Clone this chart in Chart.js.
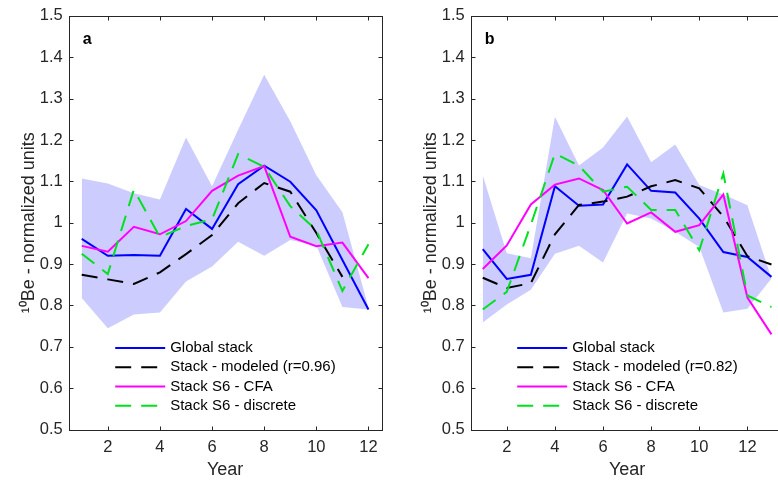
<!DOCTYPE html>
<html>
<head>
<meta charset="utf-8">
<script src="https://cdn.jsdelivr.net/npm/chart.js@4.4.0/dist/chart.umd.min.js"></script>
<style>
html, body { margin: 0; padding: 0; background: #fff; overflow: hidden; }
body { width: 778px; height: 481px; position: relative; }
.panel { position: absolute; top: 0; width: 395px; height: 481px; }
</style>
</head>
<body>
<div class="panel" style="left:0"><canvas id="chartA"></canvas></div>
<div class="panel" style="left:402px"><canvas id="chartB"></canvas></div>
<script>
// panel a
const yearsA = [1, 2, 3, 4, 5, 6, 7, 8, 9, 10, 11, 12];
const globalA = [0.961, 0.920, 0.922, 0.920, 1.033, 0.985, 1.093, 1.138, 1.099, 1.030, 0.910, 0.790];
const modelA = [0.874, 0.863, 0.852, 0.880, 0.924, 0.970, 1.047, 1.096, 1.075, 0.975, 0.869, null];
const cfaA = [0.944, 0.930, 0.990, 0.972, 1.004, 1.077, 1.114, 1.137, 0.966, 0.943, 0.952, 0.866];
const discreteA = [0.925, 0.876, 1.080, 0.965, 0.992, 1.008, 1.166, 1.135, 1.040, 0.982, 0.835, 0.948];
const upperA = [1.107, 1.095, 1.071, 1.056, 1.206, 1.088, 1.225, 1.358, 1.245, 1.115, 1.025, 0.795];
const lowerA = [0.818, 0.745, 0.778, 0.783, 0.858, 0.894, 0.954, 0.920, 0.958, 0.945, 0.796, 0.790];

// panel b
const yearsB = [1, 2, 3, 4, 5, 6, 7, 8, 9, 10, 11, 12, 13];
const globalB = [0.936, 0.864, 0.874, 1.088, 1.041, 1.044, 1.141, 1.077, 1.073, 1.010, 0.929, 0.917, 0.869];
const modelB = [0.867, 0.842, 0.854, 0.972, 1.043, 1.051, 1.063, 1.088, 1.103, 1.083, 1.015, 0.919, 0.899];
const cfaB = [0.888, 0.945, 1.044, 1.092, 1.107, 1.079, 0.998, 1.025, 0.978, 0.994, 1.068, 0.819, 0.730];
const discreteB = [0.790, 0.833, 0.995, 1.167, 1.138, 1.075, 1.087, 1.031, 1.031, 0.933, 1.119, 0.824, 0.796];
const upperB = [1.115, 0.926, 0.914, 1.256, 1.138, 1.182, 1.257, 1.146, 1.189, 1.091, 1.068, 1.042, 0.865];
const lowerB = [0.759, 0.802, 0.838, 0.925, 0.944, 0.904, 1.022, 1.010, 0.978, 0.941, 0.783, 0.792, 0.865];

const xTicks = [2, 4, 6, 8, 10, 12];
const yTicks = [0.5, 0.6, 0.7, 0.8, 0.9, 1, 1.1, 1.2, 1.3, 1.4, 1.5];
const yTickLabels = ['0.5', '0.6', '0.7', '0.8', '0.9', '1', '1.1', '1.2', '1.3', '1.4', '1.5'];

const FONT = "'Liberation Sans', Arial, Helvetica, sans-serif";
const AXIS = '#262626';
const BAND = 'rgb(204,204,255)';
const GREEN = 'rgb(0,225,30)';

function pts(xs, ys) {
	return xs.map((x, i) => ({ x: x, y: ys[i] }));
}

// matlab look: full box, inward ticks on all sides, legend inside, panel letter
const matlabAxes = {
	id: 'matlabAxes',
	afterDatasetsDraw(chart, args, opts) {
		const ctx = chart.ctx;
		const a = chart.chartArea;
		const sx = chart.scales.x, sy = chart.scales.y;
		const L = Math.round(a.left) + 0.5, R = Math.round(a.right) + 0.5;
		const T = Math.round(a.top) + 0.5, B = Math.round(a.bottom) + 0.5;
		ctx.save();
		ctx.strokeStyle = AXIS;
		ctx.lineWidth = 1;
		ctx.setLineDash([]);
		ctx.strokeRect(L, T, R - L, B - T);
		ctx.beginPath();
		xTicks.forEach(v => {
			const px = Math.round(sx.getPixelForValue(v)) + 0.5;
			ctx.moveTo(px, B); ctx.lineTo(px, B - 4);
			ctx.moveTo(px, T); ctx.lineTo(px, T + 4);
		});
		yTicks.forEach(v => {
			const py = Math.round(sy.getPixelForValue(v)) + 0.5;
			ctx.moveTo(L, py); ctx.lineTo(L + 4, py);
			ctx.moveTo(R, py); ctx.lineTo(R - 4, py);
		});
		ctx.stroke();

		ctx.fillStyle = '#000';
		ctx.font = 'bold 16px ' + FONT;
		ctx.textBaseline = 'alphabetic';
		ctx.fillText(opts.letter, a.left + 14, a.top + 27.7);

		// legend
		ctx.font = '15px ' + FONT;
		ctx.textBaseline = 'middle';
		let row = 0;
		chart.data.datasets.forEach(ds => {
			if (!ds.label) return;
			const y = a.top + 332 + row * 19.3;
			ctx.beginPath();
			ctx.strokeStyle = ds.borderColor;
			ctx.lineWidth = ds.borderWidth;
			ctx.setLineDash(ds.borderDash || []);
			ctx.moveTo(a.left + 46.5, y);
			ctx.lineTo(a.left + 96.5, y);
			ctx.stroke();
			ctx.setLineDash([]);
			ctx.fillStyle = '#000';
			ctx.fillText(ds.label, a.left + 101.5, y);
			row++;
		});
		ctx.restore();
	}
};

function makeChart(id, years, xMax, s, letter) {
	return new Chart(document.getElementById(id), {
		type: 'line',
		data: {
			datasets: [
				{ label: '', data: pts(years, s.upper), borderColor: 'rgba(0,0,0,0)', borderWidth: 0, backgroundColor: BAND, fill: '+1', order: 10 },
				{ label: '', data: pts(years, s.lower), borderColor: 'rgba(0,0,0,0)', borderWidth: 0, fill: false, order: 10 },
				{ label: 'Global stack', data: pts(years, s.global), borderColor: 'rgb(0,0,255)', borderWidth: 2, fill: false, order: 4 },
				{ label: s.modelLabel, data: pts(years, s.model), borderColor: '#000', borderWidth: 2, borderDash: [16, 10], fill: false, order: 3 },
				{ label: 'Stack S6 - CFA', data: pts(years, s.cfa), borderColor: 'rgb(255,0,255)', borderWidth: 2, fill: false, order: 2 },
				{ label: 'Stack S6 - discrete', data: pts(years, s.discrete), borderColor: GREEN, borderWidth: 2, borderDash: [16, 10], fill: false, order: 1 }
			]
		},
		options: {
			responsive: true,
			maintainAspectRatio: false,
			animation: false,
			layout: { padding: { left: 0, top: 15, right: 13.5, bottom: 0 } },
			elements: { point: { radius: 0 }, line: { tension: 0 } },
			plugins: {
				legend: { display: false },
				tooltip: { enabled: false },
				matlabAxes: { letter: letter }
			},
			scales: {
				x: {
					type: 'linear', min: 0.5, max: xMax,
					grid: { display: false, drawTicks: false },
					border: { display: false },
					afterBuildTicks: sc => { sc.ticks = xTicks.map(v => ({ value: v })); },
					afterFit: sc => { sc.height = 51.5; },
					ticks: { padding: 8, color: AXIS, maxRotation: 0, font: { family: FONT, size: 16.5 } },
					title: { display: true, text: 'Year', color: AXIS, font: { family: FONT, size: 18 }, padding: { top: 0, bottom: 0 } }
				},
				y: {
					min: 0.5, max: 1.5,
					grid: { display: false, drawTicks: false },
					border: { display: false },
					afterBuildTicks: sc => { sc.ticks = yTicks.map(v => ({ value: v })); },
					afterFit: sc => { sc.width = 68.7; },
					ticks: { padding: 6, color: AXIS, font: { family: FONT, size: 16.5 }, callback: (v, i) => yTickLabels[i] },
					title: { display: true, text: '¹⁰Be - normalized units', color: AXIS, font: { family: FONT, size: 18 }, padding: { top: 18, bottom: 0 } }
				}
			}
		},
		plugins: [matlabAxes]
	});
}

makeChart('chartA', yearsA, 12.5, {
	upper: upperA, lower: lowerA, global: globalA, model: modelA, cfa: cfaA, discrete: discreteA,
	modelLabel: 'Stack - modeled (r=0.96)'
}, 'a');

makeChart('chartB', yearsB, 13.5, {
	upper: upperB, lower: lowerB, global: globalB, model: modelB, cfa: cfaB, discrete: discreteB,
	modelLabel: 'Stack - modeled (r=0.82)'
}, 'b');
</script>
</body>
</html>
